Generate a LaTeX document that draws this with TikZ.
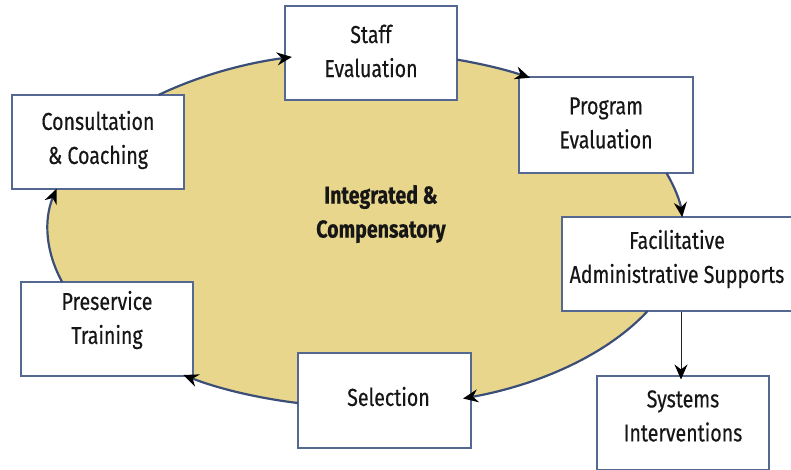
\documentclass[tikz,border=0pt]{standalone}
\usepackage{fontspec}
\setmainfont{Fira Sans}[FakeStretch=0.8,FakeBold=0.4]
\usetikzlibrary{arrows.meta}
\definecolor{ringfill}{RGB}{232,214,140}
\definecolor{ringline}{RGB}{58,78,120}
\definecolor{boxline}{RGB}{84,104,146}
\definecolor{ink}{RGB}{22,22,22}

\begin{document}
\begin{tikzpicture}[x=1pt,y=1pt,
  stagebox/.style={draw=boxline, line width=1.1pt, fill=white,
    minimum width=172pt, minimum height=94pt, inner sep=0pt},
  lbl/.style={align=center, font=\fontsize{24.5}{34}\selectfont, text=ink, inner sep=0pt},
  hub/.style={lbl, font=\bfseries\fontsize{24.5}{34}\selectfont},
  tip/.style={-{Stealth[length=15pt,width=13pt,inset=5pt,color=black]}},
  cycle arrow/.style={draw=ringline, line width=2.2pt, tip},
  down arrow/.style={draw=black!85, line width=0.8pt, tip},
  orbit/.style={x radius=317.5, y radius=177.5}]

\useasboundingbox (0,0) rectangle (791,469);

% the central ring
\coordinate (ring) at (365.5,239.4);
\fill[ringfill] (ring) ellipse [orbit];
\node[hub] (core) at (381,255) {Integrated \&\\Compensatory};

% the stages around the ring
\node[stagebox] (staff)   at (371,416)   {};
\node[stagebox, minimum width=174pt, minimum height=96pt] (program) at (606,344) {};
\node[stagebox] (consult) at (98,327)    {};
\node[stagebox, minimum width=232pt] (facil) at (678,205) {};
\node[stagebox] (systems) at (683,46)    {};
\node[stagebox, minimum width=173pt, minimum height=95pt] (select) at (384.5,68.5) {};
\node[stagebox] (preserv) at (107,140)   {};

\node[lbl] (staff-t)   at ([yshift=2]staff.center)   {Staff\\Evaluation};
\node[lbl] (program-t) at ([yshift=2]program.center) {Program\\Evaluation};
\node[lbl] (consult-t) at ([yshift=2]consult.center) {Consultation\\\& Coaching};
\node[lbl] (facil-t)   at ([yshift=5,xshift=-1]facil.center)   {Facilitative\\Administrative Supports};
\node[lbl] (systems-t) at ([yshift=7]systems.center) {Systems\\Interventions};
\node[lbl] (select-t)  at ([yshift=4,xshift=4]select.center)  {Selection};
\node[lbl] (preserv-t) at ([yshift=9]preserv.center) {Preservice\\Training};

% cycle connectors along the ring outline
\draw[cycle arrow] ([shift={(130.7:317.5 and 177.5)}]ring) arc[start angle=130.7, end angle=103.4, orbit];
\draw[cycle arrow] ([shift={(73.25:317.5 and 177.5)}]ring) arc[start angle=73.25, end angle=58.8, orbit];
\draw[cycle arrow] ([shift={(18.6:317.5 and 177.5)}]ring) arc[start angle=18.6, end angle=4.0, orbit];
\draw[cycle arrow] ([shift={(-27.3:317.5 and 177.5)}]ring) arc[start angle=-27.3, end angle=-72.1, orbit];
\draw[cycle arrow] ([shift={(-102.3:317.5 and 177.5)}]ring) arc[start angle=-102.3, end angle=-125.0, orbit];
\draw[cycle arrow] ([shift={(-162.8:317.5 and 177.5)}]ring) arc[start angle=-162.8, end angle=-193.3, orbit];

% branch to the systems level
\draw[down arrow] ([xshift=3]facil.south) -- ([xshift=-2,yshift=-4]systems.north);
\end{tikzpicture}
\end{document}
